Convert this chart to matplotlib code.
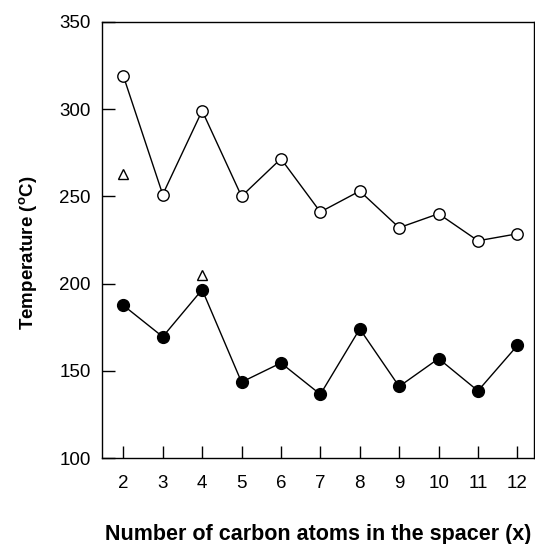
import numpy as np
import matplotlib
matplotlib.use("Agg")
import matplotlib.pyplot as plt

plt.rcParams['font.family'] = ['Liberation Sans', 'DejaVu Sans']
plt.rcParams['mathtext.fontset'] = 'custom'
plt.rcParams['mathtext.rm'] = 'Liberation Sans:bold'

carbons = [2, 3, 4, 5, 6, 7, 8, 9, 10, 11, 12]
open_temps = [319, 251, 299, 250, 271.5, 241, 253, 232, 240, 224.5, 228.5]
filled_temps = [187.5, 169.5, 196.5, 143.5, 154.5, 136.5, 174, 141, 157, 138.5, 164.5]
tri_x = [2, 4]
tri_temps = [262.5, 205]

fig = plt.figure(figsize=(5.35, 5.44), dpi=100)
ax = fig.add_axes([0.190, 0.158, 0.808, 0.802])

ax.plot(carbons, open_temps, color='black', lw=1, marker='o', ms=8.2,
        mfc='white', mec='black', mew=1)
ax.plot(carbons, filled_temps, color='black', lw=1, marker='o', ms=8.5,
        mfc='black', mec='black')
ax.plot(tri_x, tri_temps, ls='none', marker='^', ms=7.5, mfc='white',
        mec='black', mew=1)

ax.set_xlim(1.45, 12.42)
ax.set_ylim(100, 350)
ax.set_xticks(carbons)
ax.set_yticks([100, 150, 200, 250, 300, 350])
ax.tick_params(direction='in', length=9, width=1, labelsize=13.5)
ax.tick_params(axis='x', pad=12)
ax.tick_params(axis='y', pad=8)
for s in ax.spines.values():
    s.set_linewidth(1)

ax.set_xlabel('Number of carbon atoms in the spacer (x)', fontsize=15.5,
              fontweight='bold', labelpad=23)
ax.set_ylabel(r'Temperature ($\mathregular{^o}$C)', fontsize=13.5,
              fontweight='bold')
ax.yaxis.set_label_coords(-0.145, 0.47)

fig.savefig('out.png', dpi=100)
